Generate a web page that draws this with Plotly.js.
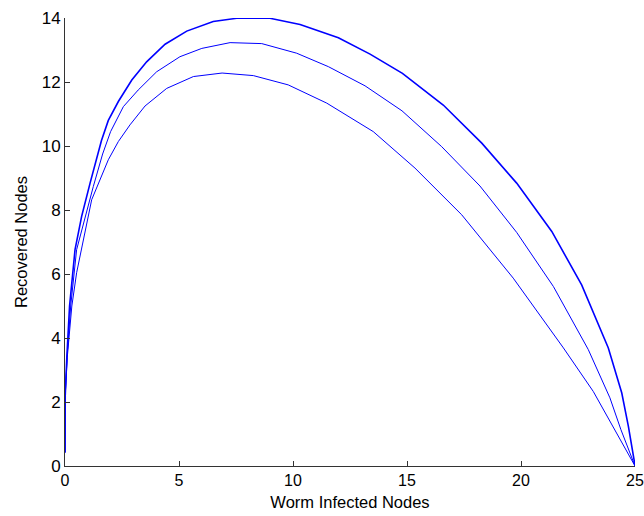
<!DOCTYPE html>
<html>
<head>
<meta charset="utf-8">
<script src="https://cdn.plot.ly/plotly-3.0.1.min.js"></script>
<style>html,body{margin:0;padding:0;background:#fff;}#chart{width:644px;height:516px;}</style>
</head>
<body>
<div id="chart"></div>
<script>
// Outer curve
var xOuter = [0,0.01,0.08,0.2,0.44,0.73,1.1,1.6,1.9,2.34,2.93,3.58,4.39,5.34,6.5,7.53,8.99,10.31,11.99,13.38,14.8,16.59,18.28,19.81,21.35,22.66,23.83,24.42,24.71,25];
var yOuter = [0.42,2.2,3.4,5.0,6.76,7.8,8.84,10.17,10.8,11.39,12.06,12.63,13.18,13.59,13.89,13.99,13.99,13.8,13.38,12.87,12.27,11.28,10.09,8.84,7.33,5.66,3.69,2.28,1.24,0.02];
// Middle curve
var xMiddle = [0,0.01,0.09,0.25,0.51,0.88,1.24,1.65,2.0,2.56,3.21,4.02,5.04,6.0,7.24,8.63,10.16,11.55,13.16,14.78,16.52,18.2,19.81,21.42,22.95,23.9,24.38,25];
var yMiddle = [0.42,2.2,3.4,5.0,6.76,7.8,8.73,9.75,10.45,11.23,11.75,12.32,12.79,13.05,13.23,13.2,12.9,12.48,11.88,11.1,9.98,8.75,7.3,5.61,3.64,2.13,1.14,0];
// Inner curve
var xInner = [0,0.01,0.1,0.3,0.51,1.17,1.9,2.34,2.85,3.51,4.46,5.63,6.89,8.26,9.79,11.48,13.52,15.35,17.4,19.66,21.86,23.17,25];
var yInner = [0.42,2.2,3.4,5.0,6.04,8.32,9.57,10.14,10.66,11.25,11.8,12.17,12.28,12.2,11.91,11.34,10.45,9.31,7.85,5.87,3.69,2.33,0];

var xTicks = [0,5,10,15,20,25];
var yTicks = [0,2,4,6,8,10,12,14];

var traces = [
  {x: xInner, y: yInner, mode: 'lines', line: {color: '#0000ff', width: 1}},
  {x: xMiddle, y: yMiddle, mode: 'lines', line: {color: '#0000ff', width: 1}},
  {x: xOuter, y: yOuter, mode: 'lines', line: {color: '#0000ff', width: 1.6}}
];

var fam = 'Liberation Sans, Arial, sans-serif';
var layout = {
  width: 644, height: 516,
  margin: {l: 65, r: 9, t: 18, b: 50, pad: 0},
  paper_bgcolor: '#fff', plot_bgcolor: '#fff',
  showlegend: false,
  xaxis: {
    range: [0, 25], tickvals: xTicks, ticktext: xTicks.map(String),
    showgrid: false, zeroline: false, showline: true, linecolor: '#333', linewidth: 1,
    ticks: 'inside', ticklen: 5, tickcolor: '#333', tickfont: {family: fam, size: 16, color: '#000'},
    title: {text: 'Worm Infected Nodes', font: {family: fam, size: 16.5, color: '#000'}, standoff: 8}
  },
  yaxis: {
    range: [0, 14], tickvals: yTicks, ticktext: yTicks.map(String),
    showgrid: false, zeroline: false, showline: true, linecolor: '#333', linewidth: 1,
    ticks: 'inside', ticklen: 5, tickcolor: '#333', tickfont: {family: fam, size: 17, color: '#000'},
    title: {text: 'Recovered Nodes', font: {family: fam, size: 16.5, color: '#000'}, standoff: 9}
  }
};
Plotly.newPlot('chart', traces, layout, {displayModeBar: false, staticPlot: true});
</script>
</body>
</html>
